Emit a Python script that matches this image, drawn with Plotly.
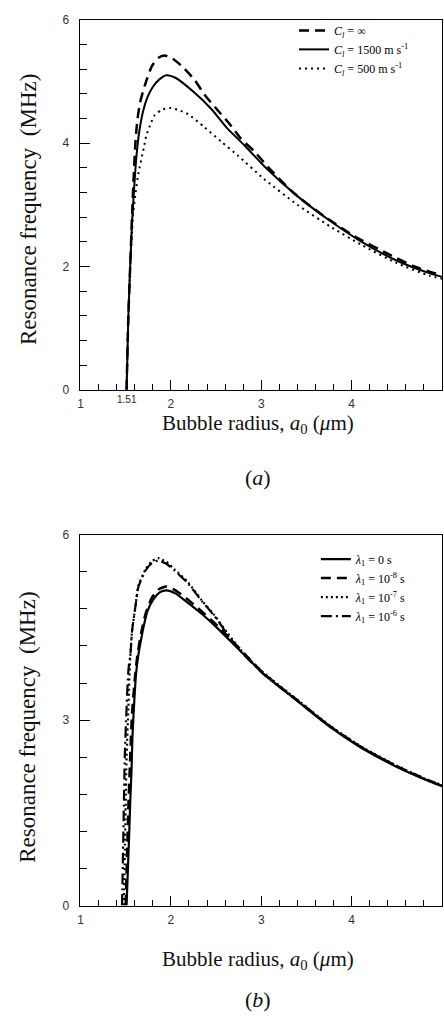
import plotly.graph_objects as go

# ---------- Panel (a): effect of liquid sound speed C_l ----------
a_inf_x = [1.51, 1.53, 1.55, 1.57, 1.59, 1.61, 1.63, 1.66, 1.715, 1.79, 1.86, 1.93, 2.02, 2.12, 2.26, 2.37,
           2.52, 2.65, 2.77, 2.92, 3.07, 3.36, 3.69, 4.02, 4.42, 4.71, 5.0]
a_inf_y = [0.0, 1.2, 2.0, 2.8, 3.5, 4.05, 4.38, 4.66, 4.95, 5.25, 5.38, 5.42, 5.37, 5.25, 5.03, 4.79,
           4.53, 4.31, 4.08, 3.87, 3.62, 3.19, 2.82, 2.50, 2.19, 1.99, 1.85]

a_1500_x = [1.51, 1.52, 1.53, 1.55, 1.57, 1.595, 1.62, 1.65, 1.69, 1.74, 1.80, 1.87, 1.95, 2.05, 2.26, 2.45,
            2.63, 2.81, 2.92, 3.03, 3.40, 3.76, 4.12, 4.49, 4.86, 5.0]
a_1500_y = [0.0, 0.6, 1.2, 2.0, 2.7, 3.3, 3.80, 4.18, 4.50, 4.74, 4.91, 5.03, 5.10, 5.06, 4.82, 4.55,
            4.23, 3.97, 3.80, 3.63, 3.14, 2.74, 2.39, 2.10, 1.89, 1.83]

a_500_x = [1.51, 1.53, 1.55, 1.58, 1.61, 1.64, 1.70, 1.73, 1.77, 1.82, 1.90, 1.99, 2.08, 2.19, 2.37, 2.56,
           2.74, 3.03, 3.40, 3.76, 4.12, 4.49, 4.86, 5.0]
a_500_y = [0.0, 1.2, 2.0, 2.8, 3.2, 3.5, 3.92, 4.13, 4.29, 4.45, 4.54, 4.57, 4.54, 4.47, 4.26, 4.02,
           3.80, 3.42, 3.00, 2.65, 2.34, 2.06, 1.85, 1.80]

# ---------- Panel (b): effect of relaxation time lambda_1 ----------
b_0_x = [1.51, 1.525, 1.54, 1.55, 1.565, 1.575, 1.595, 1.615, 1.64, 1.67, 1.70, 1.74, 1.81, 1.88, 1.95, 2.05,
         2.15, 2.34, 2.52, 2.70, 2.85, 3.03, 3.40, 3.76, 4.12, 4.49, 4.86, 5.0]
b_0_y = [0.0, 0.6, 1.2, 1.66, 2.2, 2.73, 3.3, 3.75, 4.05, 4.30, 4.52, 4.76, 4.96, 5.07, 5.10, 5.05,
         4.94, 4.72, 4.48, 4.22, 4.00, 3.74, 3.31, 2.89, 2.54, 2.25, 2.01, 1.93]

b_1e8_x = [1.50, 1.515, 1.53, 1.55, 1.57, 1.60, 1.63, 1.67, 1.72, 1.79, 1.87, 1.95, 2.05, 2.17, 2.34, 2.52,
           2.70, 2.85, 3.03, 3.40, 3.76, 4.12, 4.49, 4.86, 5.0]
b_1e8_y = [0.0, 0.8, 1.6, 2.4, 3.1, 3.65, 4.05, 4.40, 4.72, 4.98, 5.12, 5.16, 5.10, 4.97, 4.76, 4.52,
           4.25, 4.02, 3.75, 3.32, 2.90, 2.55, 2.26, 2.02, 1.94]

b_1e7_x = [1.48, 1.49, 1.50, 1.51, 1.53, 1.55, 1.57, 1.61, 1.64, 1.72, 1.79, 1.86, 1.95, 2.04, 2.19, 2.34,
           2.48, 2.63, 2.77, 2.90, 3.03, 3.40, 3.76, 4.12, 4.49, 4.86, 5.0]
b_1e7_y = [0.0, 0.8, 1.6, 2.4, 3.2, 4.0, 4.43, 4.86, 5.17, 5.44, 5.57, 5.62, 5.56, 5.44, 5.23, 4.94,
           4.70, 4.40, 4.14, 3.94, 3.76, 3.33, 2.91, 2.56, 2.27, 2.02, 1.95]

b_1e6_x = [1.46, 1.47, 1.48, 1.49, 1.51, 1.53, 1.555, 1.57, 1.61, 1.64, 1.72, 1.79, 1.86, 1.95, 2.04, 2.19,
           2.34, 2.48, 2.63, 2.77, 2.90, 3.03, 3.40, 3.76, 4.12, 4.49, 4.86, 5.0]
b_1e6_y = [0.0, 0.8, 1.6, 2.4, 3.2, 3.8, 4.11, 4.43, 4.86, 5.15, 5.42, 5.54, 5.58, 5.53, 5.42, 5.21,
           4.93, 4.69, 4.38, 4.12, 3.92, 3.74, 3.31, 2.90, 2.55, 2.26, 2.01, 1.94]

x_ticks = [1, 2, 3, 4, 5]
ya_ticks = [0, 2, 4, 6]
yb_ticks = [0, 3, 6]

SERIF = "Liberation Serif"
SANS = "Liberation Sans"

fig = go.Figure()

def add(x, y, name, dash, width, xa, ya, legend):
    fig.add_trace(go.Scatter(
        x=x, y=y, name=name, mode="lines",
        line=dict(color="black", width=width, dash=dash, shape="spline", smoothing=0.6),
        xaxis=xa, yaxis=ya, legend=legend))

add(a_inf_x, a_inf_y, "<i>C<sub>l</sub></i> = ∞", "10px,6px", 2.5, "x", "y", "legend")
add(a_1500_x, a_1500_y, "<i>C<sub>l</sub></i> = 1500 m s<sup>-1</sup>", "solid", 2, "x", "y", "legend")
add(a_500_x, a_500_y, "<i>C<sub>l</sub></i> = 500 m s<sup>-1</sup>", "2px,4px", 2, "x", "y", "legend")

add(b_0_x, b_0_y, "<i>λ</i><sub>1</sub> = 0 s", "solid", 2.2, "x2", "y2", "legend2")
add(b_1e8_x, b_1e8_y, "<i>λ</i><sub>1</sub> = 10<sup>-8</sup> s", "10px,6px", 2.5, "x2", "y2", "legend2")
add(b_1e7_x, b_1e7_y, "<i>λ</i><sub>1</sub> = 10<sup>-7</sup> s", "2px,3px", 2.2, "x2", "y2", "legend2")
add(b_1e6_x, b_1e6_y, "<i>λ</i><sub>1</sub> = 10<sup>-6</sup> s", "11px,4px,2px,4px", 2.2, "x2", "y2", "legend2")

W, H = 444, 1021
px_x = lambda p: p / W
px_y = lambda p: 1 - p / H

xdom = [px_x(78), px_x(442)]
common_x = dict(range=[1, 5], tickvals=x_ticks, ticks="inside", ticklen=10, tickwidth=1,
                tickcolor="black", showline=True, linecolor="black", linewidth=1, mirror=True,
                showgrid=False, zeroline=False, tickfont=dict(family=SANS, size=12, color="#333"),
                ticklabelstandoff=3,
                minor=dict(ticks="inside", dtick=0.2, ticklen=6, tickcolor="black", tickwidth=1, showgrid=False))
common_y = dict(range=[0, 6], ticks="inside", ticklen=10, tickwidth=1, tickcolor="black",
                showline=True, linecolor="black", linewidth=1, mirror=True, showgrid=False,
                zeroline=False, tickfont=dict(family=SANS, size=12, color="#333"), ticklabelstandoff=8)

fig.update_layout(
    width=W, height=H, margin=dict(l=0, r=0, t=0, b=0),
    paper_bgcolor="white", plot_bgcolor="white",
    xaxis=dict(domain=xdom, anchor="y", **common_x),
    yaxis=dict(domain=[px_y(388), px_y(13)], anchor="x", tickvals=ya_ticks,
               minor=dict(ticks="inside", dtick=0.4, ticklen=7, tickcolor="black", tickwidth=1, showgrid=False),
               **common_y),
    xaxis2=dict(domain=xdom, anchor="y2", **common_x),
    yaxis2=dict(domain=[px_y(911), px_y(535)], anchor="x2", tickvals=yb_ticks,
                minor=dict(ticks="inside", dtick=0.6, ticklen=7, tickcolor="black", tickwidth=1, showgrid=False),
                **common_y),
    legend=dict(x=px_x(293), y=px_y(9), xanchor="left", yanchor="top",
                font=dict(family=SERIF, size=12, color="black"), bgcolor="rgba(0,0,0,0)",
                tracegroupgap=0, itemwidth=30),
    legend2=dict(x=px_x(315), y=px_y(545), xanchor="left", yanchor="top",
                 font=dict(family=SERIF, size=12, color="black"), bgcolor="rgba(0,0,0,0)",
                 tracegroupgap=0, itemwidth=30),
    showlegend=True,
    hovermode=False,
)

annos = []
for yc in (205, 730):
    annos.append(dict(text="Resonance frequency  (MHz)", x=px_x(25), y=px_y(yc), xref="paper", yref="paper",
                      textangle=-90, showarrow=False, font=dict(family=SERIF, size=23, color="#111"),
                      xanchor="center", yanchor="middle"))
for yc in (423, 966):
    annos.append(dict(text="Bubble radius, <i>a</i><sub>0</sub> (<i>μ</i>m)", x=px_x(257), y=px_y(yc),
                      xref="paper", yref="paper", showarrow=False,
                      font=dict(family=SERIF, size=21, color="#111"), xanchor="center", yanchor="middle"))
for lab, yc in (("(<i>a</i>)", 477), ("(<i>b</i>)", 1006)):
    annos.append(dict(text=lab, x=px_x(257), y=px_y(yc), xref="paper", yref="paper", showarrow=False,
                      font=dict(family=SERIF, size=22, color="#111"), xanchor="center", yanchor="middle"))
annos.append(dict(text="1.51", x=1.51, y=px_y(398), xref="x", yref="paper", showarrow=False,
                  font=dict(family=SANS, size=10, color="#222"), xanchor="center", yanchor="middle"))
fig.update_layout(annotations=annos)

fig.write_html("out.html", config={"displayModeBar": False},
               post_script="document.body.style.margin='0';document.body.style.overflow='hidden';")
